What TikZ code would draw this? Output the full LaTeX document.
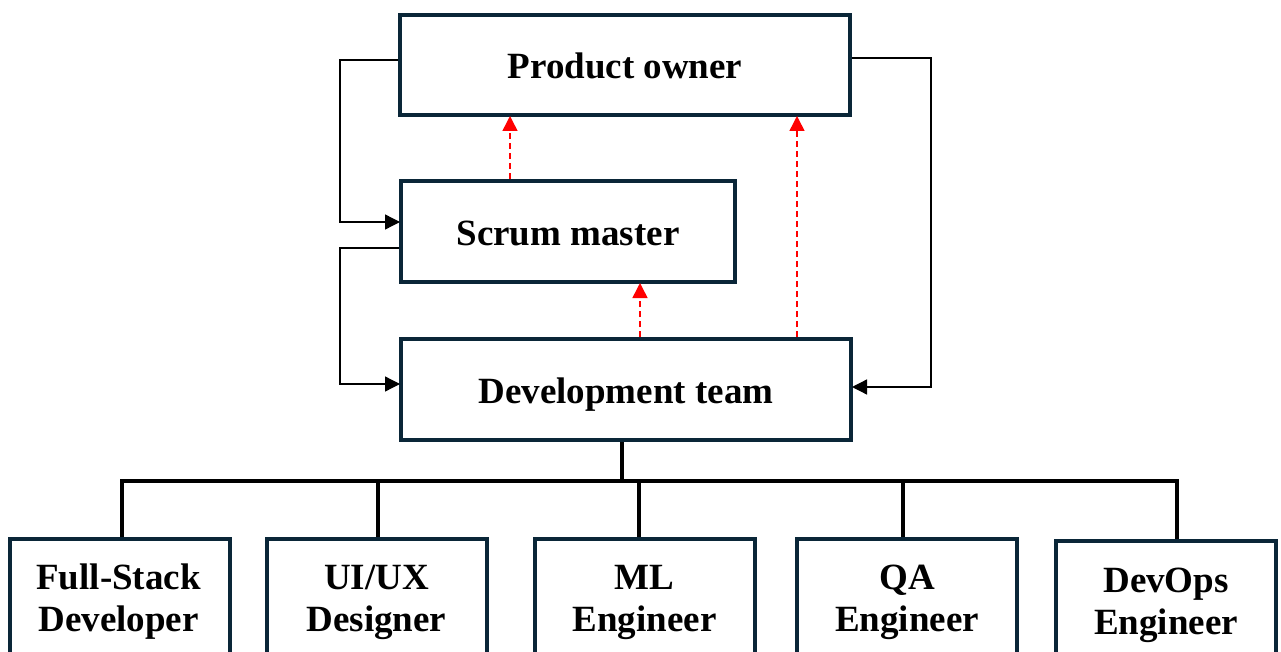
\documentclass[tikz,border=0pt]{standalone}
\usepackage{fontspec}
\setmainfont{Liberation Serif}
\usetikzlibrary{arrows.meta}
\definecolor{boxc}{RGB}{10,38,56}
\begin{document}
\begin{tikzpicture}[x=1pt,y=-1pt,
 mainbox/.style={draw=boxc, line width=4pt, fill=white, inner sep=0pt,
   font=\fontsize{37}{42}\selectfont\bfseries, text height=30pt, text depth=2pt},
 childbox/.style={draw=boxc, line width=4pt, fill=white, minimum width=220pt,
   minimum height=200pt, anchor=north, inner sep=0pt},
 childtext/.style={align=center, anchor=base, inner sep=0pt,
   font=\fontsize{37}{42}\selectfont\bfseries},
 link/.style={line width=1.3pt, black},
 dep/.style={link, -{Triangle[length=15pt,width=15pt]}, shorten >=-1pt},
 report/.style={red, line width=1.5pt, dash pattern=on 6pt off 4pt,
   -{Triangle[length=15pt,width=15pt]}, shorten >=-1pt},
 bus/.style={line width=3.5pt, black, line join=miter}
]
\useasboundingbox (0,0) rectangle (1281,652);
\clip (0,0) rectangle (1281,652);

% main boxes
\node[mainbox, minimum width=450pt, minimum height=100pt] (po) at (625,65) {Product owner};
\node[mainbox, minimum width=334pt, minimum height=101pt] (sm) at (568,231.5) {Scrum master};
\node[mainbox, minimum width=450pt, minimum height=101pt] (dev) at (626,389.5) {Development team};

% child boxes
\node[childbox] (fs) at (120,537) {};
\node[childbox] (ui) at (376.5,537) {};
\node[childbox] (ml) at (644.5,537) {};
\node[childbox] (qa) at (907,537) {};
\node[childbox] (do) at (1166,539) {};

\node[childtext] (fst) at (118.5,631) {Full-Stack\\Developer};
\node[childtext] (uit) at (376.5,631) {UI/UX\\Designer};
\node[childtext] (mlt) at (644.5,631) {ML\\Engineer};
\node[childtext] (qat) at (907,631) {QA\\Engineer};
\node[childtext] (dot) at (1166,634) {DevOps\\Engineer};

% left / right feedback connectors
\coordinate (l1) at (340,60);
\coordinate (l2) at (340,222);
\coordinate (l3) at (340,248);
\coordinate (l4) at (340,384);
\coordinate (r1) at (931,58);
\coordinate (r2) at (931,387);
\draw[dep] (po.west |- l1) -- (l1) -- (l2) -- (sm.west |- l2);
\draw[dep] (sm.west |- l3) -- (l3) -- (l4) -- (dev.west |- l4);
\draw[dep] (po.east |- r1) -- (r1) -- (r2) -- (dev.east |- r2);

% red dashed reporting arrows
\coordinate (d1) at (510,0);
\coordinate (d2) at (640,0);
\coordinate (d3) at (797,0);
\draw[report] (sm.north -| d1) -- (po.south -| d1);
\draw[report] (dev.north -| d2) -- (sm.south -| d2);
\draw[report] (dev.north -| d3) -- (po.south -| d3);

% bus to team members
\coordinate (t) at (622,481);
\coordinate (b1) at (122,481);
\coordinate (b2) at (378,481);
\coordinate (b3) at (639,481);
\coordinate (b4) at (903,481);
\coordinate (b5) at (1177,481);
\draw[bus] (t |- dev.south) -- (t);
\draw[bus] (b1 |- fs.north) -- (b1) -- (b5) -- (b5 |- do.north);
\draw[bus] (b2) -- (b2 |- ui.north);
\draw[bus] (b3) -- (b3 |- ml.north);
\draw[bus] (b4) -- (b4 |- qa.north);
\end{tikzpicture}
\end{document}
